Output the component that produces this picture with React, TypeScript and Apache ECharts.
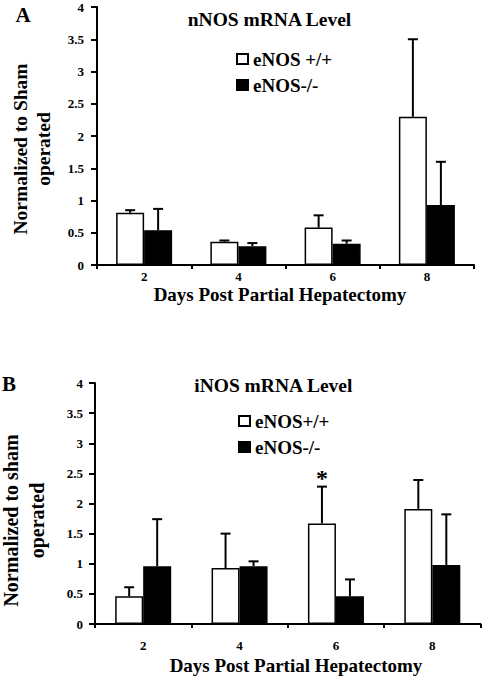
import React, { useEffect, useRef } from 'react';
import * as echarts from 'echarts';

// ---- data ----
const days = ['2', '4', '6', '8'];
// Panel A: nNOS mRNA level
const nnosWT = [0.81, 0.36, 0.58, 2.3];
const nnosWTUpper = [0.85, 0.38, 0.77, 3.5];
const nnosKO = [0.54, 0.29, 0.33, 0.93];
const nnosKOUpper = [0.87, 0.34, 0.38, 1.6];
// Panel B: iNOS mRNA level
const inosWT = [0.46, 0.93, 1.67, 1.91];
const inosWTUpper = [0.61, 1.5, 2.28, 2.39];
const inosKO = [0.96, 0.96, 0.46, 0.98];
const inosKOUpper = [1.74, 1.04, 0.74, 1.82];
const inosWTStars = ['', '', '*', ''];
const yTicks = { min: 0, max: 4, interval: 0.5 };

const FF = '"Liberation Serif", "Times New Roman", serif';
const BAR_W = 28;

function errSeries(xi: number, means: number[], uppers: number[], offset: number, stars?: string[]) {
  return {
    type: 'custom',
    xAxisIndex: xi,
    yAxisIndex: xi,
    data: means.map((m, i) => [i, m, uppers[i]]),
    encode: { x: 0, y: [1, 2] },
    z: 5,
    silent: true,
    renderItem: (params: any, api: any) => {
      const i = api.value(0);
      const base = api.coord([i, api.value(1)]);
      const top = api.coord([i, api.value(2)]);
      const x = base[0] + offset;
      const children: any[] = [
        { type: 'line', shape: { x1: x, y1: base[1], x2: x, y2: top[1] }, style: { stroke: '#000', lineWidth: 2 } },
        { type: 'line', shape: { x1: x - 5, y1: top[1], x2: x + 5, y2: top[1] }, style: { stroke: '#000', lineWidth: 2 } },
      ];
      if (stars && stars[i]) {
        children.push({
          type: 'text',
          x,
          y: top[1] - 9,
          style: { text: stars[i], font: 'bold 24px ' + FF, fill: '#000', textAlign: 'center', textVerticalAlign: 'middle' },
        });
      }
      return { type: 'group', children };
    },
  };
}

function barSeries(name: string, xi: number, values: number[], white: boolean) {
  return {
    type: 'bar',
    name,
    xAxisIndex: xi,
    yAxisIndex: xi,
    data: values,
    barWidth: BAR_W,
    barGap: '0%',
    itemStyle: white
      ? { color: '#fff', borderColor: '#000', borderWidth: 1.5 }
      : { color: '#000', borderColor: '#000', borderWidth: 1.5 },
  };
}

const txt = (text: string, x: number, y: number, size: number, rotation = 0, lineHeight?: number) => ({
  type: 'text',
  x,
  y,
  rotation,
  style: {
    text,
    font: 'bold ' + size + 'px ' + FF,
    fill: '#000',
    textAlign: 'center',
    textVerticalAlign: 'middle',
    ...(lineHeight ? { lineHeight } : {}),
  },
});

function xAxisCfg(gi: number, margin: number) {
  return {
    type: 'category',
    gridIndex: gi,
    data: days,
    axisLine: { lineStyle: { color: '#000', width: 2 } },
    axisTick: { show: true, length: 4, lineStyle: { color: '#000', width: 2 } },
    axisLabel: { margin, color: '#000', fontFamily: FF, fontWeight: 'bold', fontSize: 13 },
  };
}

function yAxisCfg(gi: number, margin: number) {
  return {
    type: 'value',
    gridIndex: gi,
    min: yTicks.min,
    max: yTicks.max,
    interval: yTicks.interval,
    splitLine: { show: false },
    axisLine: { show: true, lineStyle: { color: '#000', width: 2 } },
    axisTick: { show: true, length: 6, lineStyle: { color: '#000', width: 2 } },
    axisLabel: { margin, color: '#000', fontFamily: FF, fontWeight: 'bold', fontSize: 13 },
  };
}

const legendText = { fontFamily: FF, fontWeight: 'bold', fontSize: 19, color: '#000', lineHeight: 20 };

export default function App() {
  const ref = useRef<HTMLDivElement>(null);
  useEffect(() => {
    if (!ref.current) return;
    const chart = echarts.init(ref.current, null, { renderer: 'svg' });
    chart.setOption({
      animation: false,
      backgroundColor: '#fff',
      grid: [
        { left: 97, top: 7, right: 8, bottom: 411 },
        { left: 95, top: 383, right: 1.5, bottom: 52 },
      ],
      xAxis: [xAxisCfg(0, 5), xAxisCfg(1, 15)],
      yAxis: [yAxisCfg(0, 13), yAxisCfg(1, 12)],
      legend: [
        {
          orient: 'vertical', left: 231, top: 44, icon: 'rect', itemWidth: 11, itemHeight: 10, itemGap: 6,
          selectedMode: false, textStyle: legendText, data: ['eNOS +/+', 'eNOS-/-'],
        },
        {
          orient: 'vertical', left: 233, top: 406, icon: 'rect', itemWidth: 11, itemHeight: 10, itemGap: 6,
          selectedMode: false, textStyle: legendText, data: ['eNOS+/+', 'eNOS-/-'],
        },
      ],
      series: [
        barSeries('eNOS +/+', 0, nnosWT, true),
        barSeries('eNOS-/-', 0, nnosKO, false),
        barSeries('eNOS+/+', 1, inosWT, true),
        barSeries('eNOS-/-', 1, inosKO, false),
        errSeries(0, nnosWT, nnosWTUpper, -BAR_W / 2),
        errSeries(0, nnosKO, nnosKOUpper, BAR_W / 2),
        errSeries(1, inosWT, inosWTUpper, -BAR_W / 2, inosWTStars),
        errSeries(1, inosKO, inosKOUpper, BAR_W / 2),
      ],
      graphic: [
        txt('A', 23, 15, 21),
        txt('nNOS mRNA Level', 269.5, 19, 19.5),
        txt('Normalized to Sham\noperated', 32, 149, 19.5, Math.PI / 2, 22.7),
        txt('Days Post Partial Hepatectomy', 280, 294, 19),
        txt('B', 9, 383.5, 21),
        txt('iNOS mRNA Level', 273.3, 385, 19.5),
        txt('Normalized to sham\noperated', 24, 520.5, 20, Math.PI / 2, 26),
        txt('Days Post Partial Hepatectomy', 296, 665.5, 19),
      ],
    });
    return () => chart.dispose();
  }, []);
  return <div ref={ref} style={{ position: 'fixed', left: 0, top: 0, width: 482, height: 676, background: '#fff' }} />;
}
